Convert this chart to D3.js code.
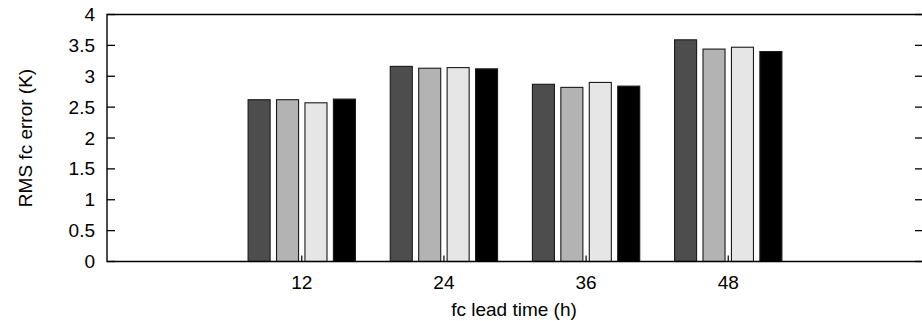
<!DOCTYPE html>
<html>
<head>
<meta charset="utf-8">
<script src="https://cdn.jsdelivr.net/npm/d3@7"></script>
<style>
  html, body { margin: 0; padding: 0; background: #fff; }
  svg { display: block; }
  text { font-family: "Liberation Sans", Arial, Helvetica, sans-serif; fill: #000; }
</style>
</head>
<body>
<svg id="chart" width="922" height="321"></svg>
<script>
// ---- data ----
const leadTimes = [12, 24, 36, 48];
const series1 = [2.62, 3.16, 2.87, 3.59];
const series2 = [2.62, 3.13, 2.82, 3.44];
const series3 = [2.57, 3.14, 2.90, 3.47];
const series4 = [2.63, 3.12, 2.84, 3.40];
const seriesList = [series1, series2, series3, series4];
const seriesColors = ["#4d4d4d", "#b3b3b3", "#e6e6e6", "#000000"];
const yTicks = [0, 0.5, 1, 1.5, 2, 2.5, 3, 3.5, 4];
const yLabel = "RMS fc error (K)";
const xLabel = "fc lead time (h)";

// ---- layout ----
const svg = d3.select("#chart");
const L = 107, R = 923, T = 14.5, B = 261.5;
const x = d3.scaleLinear().domain([-1.37, 4.37]).range([L, R]);
const y = d3.scaleLinear().domain([0, 4]).range([B, T]);
const barStep = 0.2, barW = 0.155;
const fs = 19;

// bars
seriesList.forEach((s, j) => {
  svg.append("g").selectAll("rect").data(s).join("rect")
    .attr("x", (d, i) => x(i + (j - 1.5) * barStep - barW / 2))
    .attr("width", x(barW) - x(0))
    .attr("y", d => y(d))
    .attr("height", d => y(0) - y(d))
    .attr("fill", seriesColors[j])
    .attr("stroke", "#1a1a1a")
    .attr("stroke-width", 1.1);
});

// frame
svg.append("path")
  .attr("d", `M${R},${T}H${L}V${B}H${R}`)
  .attr("fill", "none").attr("stroke", "#000").attr("stroke-width", 1.4);

// y ticks left and right (inward)
const yt = svg.append("g");
yt.selectAll("line.l").data(yTicks).join("line").attr("class", "l")
  .attr("x1", L).attr("x2", L + 8)
  .attr("y1", d => y(d)).attr("y2", d => y(d))
  .attr("stroke", "#000").attr("stroke-width", 1.3);
yt.selectAll("line.r").data(yTicks).join("line").attr("class", "r")
  .attr("x1", R - 8).attr("x2", R)
  .attr("y1", d => y(d)).attr("y2", d => y(d))
  .attr("stroke", "#000").attr("stroke-width", 1.3);
yt.selectAll("text").data(yTicks).join("text")
  .attr("x", L - 12).attr("y", d => y(d))
  .attr("text-anchor", "end").attr("dominant-baseline", "central")
  .attr("font-size", fs)
  .text(d => d3.format("")(d));

// x ticks (inward, at cluster centres)
const xt = svg.append("g");
xt.selectAll("line").data(leadTimes).join("line")
  .attr("x1", (d, i) => x(i)).attr("x2", (d, i) => x(i))
  .attr("y1", B).attr("y2", B - 6)
  .attr("stroke", "#000").attr("stroke-width", 1.2);
xt.selectAll("text").data(leadTimes).join("text")
  .attr("x", (d, i) => x(i)).attr("y", 288.5)
  .attr("text-anchor", "middle")
  .attr("font-size", fs)
  .text(d => d);

// axis titles
svg.append("text")
  .attr("x", (L + R) / 2 - 1).attr("y", 315.5)
  .attr("text-anchor", "middle").attr("font-size", fs)
  .text(xLabel);
svg.append("text")
  .attr("transform", `translate(32,${(T + B) / 2}) rotate(-90)`)
  .attr("text-anchor", "middle").attr("font-size", fs)
  .text(yLabel);
</script>
</body>
</html>
